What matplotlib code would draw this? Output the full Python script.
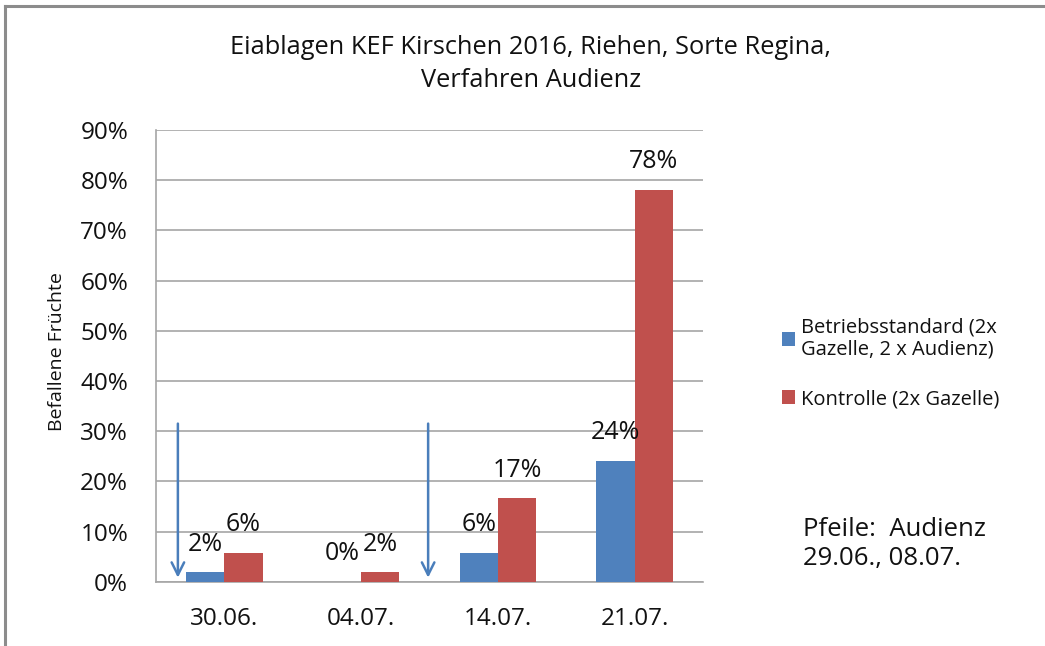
import matplotlib
matplotlib.use("Agg")
import matplotlib.pyplot as plt
from matplotlib.lines import Line2D
import numpy as np

# DATA
dates = ["30.06.", "04.07.", "14.07.", "21.07."]
betrieb = [0.02, 0.0, 0.06, 0.24]
kontrolle = [0.06, 0.02, 0.17, 0.78]
# bar heights as drawn (labels are rounded values)
betrieb_h = [0.019, 0.0, 0.058, 0.241]
kontrolle_h = [0.058, 0.019, 0.166, 0.781]
yticks = [0.0, 0.1, 0.2, 0.3, 0.4, 0.5, 0.6, 0.7, 0.8, 0.9]
arrow_x = [-0.34, 1.49]  # Audienz 29.06. and 08.07.
arrow_top = 0.315

BLUE = "#4F81BD"
RED = "#C0504D"
GRID = "#A6A6A6"
TXT = "#111111"

plt.rcParams["font.family"] = ["Open Sans", "DejaVu Sans"]

W, H = 1045, 646
fig = plt.figure(figsize=(W / 100, H / 100), dpi=100)
fig.patch.set_facecolor("white")

# outer chart border (top and left visible)
fig.add_artist(Line2D([5 / W, 1], [1 - 6 / H, 1 - 6 / H], color="#8C8C8C", lw=2.2))
fig.add_artist(Line2D([5 / W, 5 / W], [0, 1 - 6 / H], color="#8C8C8C", lw=2.2))

left, right, top, bottom = 156, 703, 130, 581.7
ax = fig.add_axes([left / W, 1 - bottom / H, (right - left) / W, (bottom - top) / H])

x = np.arange(len(dates))
bw = 0.28
b1 = ax.bar(x - bw / 2, betrieb_h, bw, color=BLUE, zorder=3,
            label="Betriebsstandard (2x\nGazelle, 2 x Audienz)")
b2 = ax.bar(x + bw / 2, kontrolle_h, bw, color=RED, zorder=3,
            label="Kontrolle (2x Gazelle)")

for bars, vals in ((b1, betrieb), (b2, kontrolle)):
    for rect, v in zip(bars, vals):
        ax.annotate(f"{v:.0%}", (rect.get_x() + rect.get_width() / 2, rect.get_height()),
                    xytext=(0, 28), textcoords="offset pixels",
                    ha="center", va="center", fontsize=18, color=TXT)

for ax_x in arrow_x:
    ax.annotate("", xy=(ax_x, 0.008), xytext=(ax_x, arrow_top),
                arrowprops=dict(arrowstyle="->,head_length=0.9,head_width=0.45",
                                color="#4A7EBB", lw=1.8, shrinkA=0, shrinkB=0),
                zorder=5)

ax.set_xlim(-0.5, 3.5)
ax.set_ylim(0, 0.9)
ax.set_yticks(yticks)
ax.set_yticklabels([f"{t:.0%}" for t in yticks])
ax.set_xticks(x)
ax.set_xticklabels(dates)
ax.tick_params(axis="both", length=0, labelsize=17.5, colors=TXT)
ax.tick_params(axis="y", pad=20)
ax.tick_params(axis="x", pad=18)
ax.yaxis.grid(True, color=GRID, lw=1.2, zorder=0)
ax.set_axisbelow(True)
for s in ("top", "right"):
    ax.spines[s].set_visible(False)
for s in ("left", "bottom"):
    ax.spines[s].set_color(GRID)
    ax.spines[s].set_linewidth(1.2)

fig.text(57 / W, 1 - 352 / H, "Befallene Früchte", rotation=90, ha="center", va="center",
         fontsize=14, color=TXT)

fig.text(531 / W, 1 - 64 / H, "Eiablagen KEF Kirschen 2016, Riehen, Sorte Regina,\nVerfahren Audienz",
         ha="center", va="center", fontsize=18.3, linespacing=1.4, color=TXT)

fig.legend(loc="upper left", bbox_to_anchor=(782 / W, 1 - 317 / H), frameon=False,
           fontsize=14.5, borderpad=0, borderaxespad=0, handlelength=0.65, handleheight=0.65,
           handletextpad=0.3, labelspacing=1.45, labelcolor=TXT)

fig.text(803 / W, 1 - 544 / H, "Pfeile:  Audienz\n29.06., 08.07.", ha="left", va="center",
         fontsize=18.5, linespacing=1.25, color=TXT)

fig.savefig("out.png", dpi=100)
